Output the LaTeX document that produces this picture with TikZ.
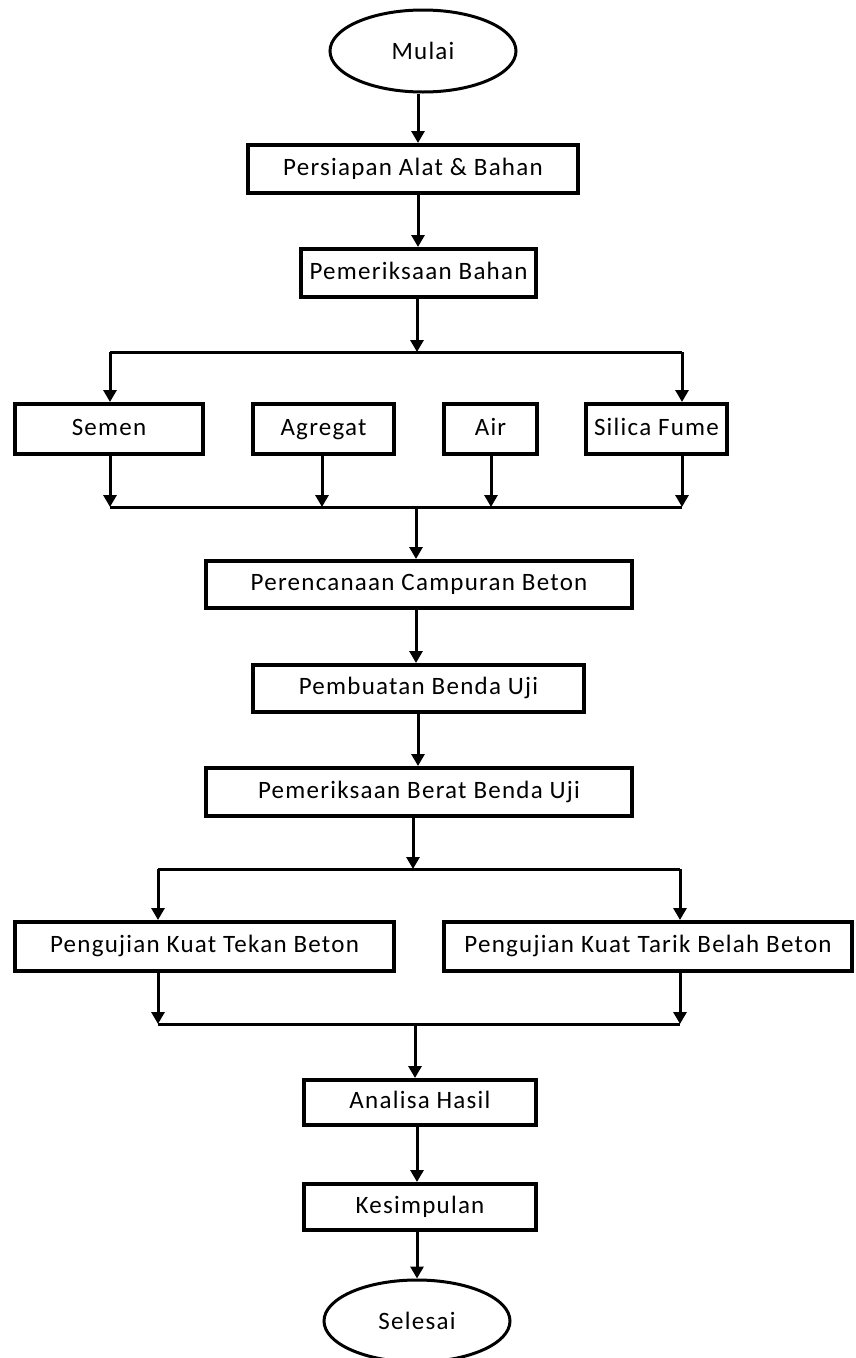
\documentclass[tikz,border=0pt]{standalone}
\usepackage{fontspec}
\setmainfont{Carlito}[LetterSpace=5]
\usetikzlibrary{shapes.geometric,arrows.meta}
\tikzset{
  box/.style={draw, line width=4pt, rectangle, inner sep=0pt, align=center,
    text height=17pt, text depth=5pt,
    font=\fontsize{25}{30}\selectfont},
  oval/.style={draw, line width=3pt, ellipse, inner sep=0pt,
    font=\fontsize{25}{30}\selectfont},
  ln/.style={line width=3pt},
  arr/.style={line width=3pt, -{Triangle[length=12pt,width=13pt]}},
}
\begin{document}
\begin{tikzpicture}[x=1pt,y=-1pt]
\useasboundingbox[fill=white] (0,0) rectangle (856,1358);
% nodes
\node[oval, minimum width=186pt, minimum height=82pt] (mulai) at (423,51) {Mulai};
\node[box, minimum width=330pt, minimum height=48pt] (persiapan) at (413,169) {Persiapan Alat \& Bahan};
\node[box, minimum width=235pt, minimum height=48pt] (bahan) at (418.5,273) {Pemeriksaan Bahan};
\node[box, minimum width=188pt, minimum height=50pt] (semen) at (109,429) {Semen};
\node[box, minimum width=141pt, minimum height=50pt] (agregat) at (323.5,429) {Agregat};
\node[box, minimum width=93pt, minimum height=50pt] (air) at (490.5,429) {Air};
\node[box, minimum width=141pt, minimum height=50pt] (silica) at (656.5,429) {Silica Fume};
\node[box, minimum width=426pt, minimum height=47pt] (rencana) at (419,584.5) {Perencanaan Campuran Beton};
\node[box, minimum width=331pt, minimum height=47pt] (buat) at (418.5,688.5) {Pembuatan Benda Uji};
\node[box, minimum width=426pt, minimum height=48pt] (berat) at (419,792) {Pemeriksaan Berat Benda Uji};
\node[box, minimum width=379pt, minimum height=49pt] (tekan) at (204.5,946.5) {Pengujian Kuat Tekan Beton};
\node[box, minimum width=408pt, minimum height=49pt] (tarik) at (648,946.5) {Pengujian Kuat Tarik Belah Beton};
\node[box, minimum width=232pt, minimum height=45pt] (analisa) at (420,1102.5) {Analisa Hasil};
\node[box, minimum width=232pt, minimum height=46pt] (simpul) at (420,1207) {Kesimpulan};
\node[oval, minimum width=186pt, minimum height=82pt] (selesai) at (417,1321) {Selesai};
% junction coordinates
\coordinate (b1) at (417,352);
\coordinate (b1L) at (110,352);
\coordinate (b1R) at (682,352);
\coordinate (m1) at (416,507);
\coordinate (m1L) at (110,507);
\coordinate (m1R) at (682,507);
\coordinate (b2) at (413,869);
\coordinate (b2L) at (158,869);
\coordinate (b2R) at (680,869);
\coordinate (m2) at (415,1024);
\coordinate (m2L) at (158,1024);
\coordinate (m2R) at (680,1024);
% connectors
\draw[arr] (mulai.south -| 418,0) -- (persiapan.north -| 418,0);
\draw[arr] (persiapan.south -| 418,0) -- (bahan.north -| 418,0);
\draw[arr] (bahan.south -| b1) -- (b1);
\draw[ln] (b1L) -- (b1R);
\draw[arr] (b1L) -- (semen.north -| b1L);
\draw[arr] (b1R) -- (silica.north -| b1R);
\draw[arr] (semen.south -| m1L) -- (m1L);
\draw[arr] (agregat.south -| 322,0) -- (m1 -| 322,0);
\draw[arr] (air.south -| 491,0) -- (m1 -| 491,0);
\draw[arr] (silica.south -| m1R) -- (m1R);
\draw[ln] (m1L) -- (m1R);
\draw[arr] (m1) -- (rencana.north -| m1);
\draw[arr] (rencana.south -| m1) -- (buat.north -| m1);
\draw[arr] (buat.south -| 418,0) -- (berat.north -| 418,0);
\draw[arr] (berat.south -| b2) -- (b2);
\draw[ln] (b2L) -- (b2R);
\draw[arr] (b2L) -- (tekan.north -| b2L);
\draw[arr] (b2R) -- (tarik.north -| b2R);
\draw[arr] (tekan.south -| m2L) -- (m2L);
\draw[arr] (tarik.south -| m2R) -- (m2R);
\draw[ln] (m2L) -- (m2R);
\draw[arr] (m2) -- (analisa.north -| m2);
\draw[arr] (analisa.south -| 417,0) -- (simpul.north -| 417,0);
\draw[arr] (simpul.south -| 417,0) -- (selesai.north -| 417,0);
\end{tikzpicture}
\end{document}
